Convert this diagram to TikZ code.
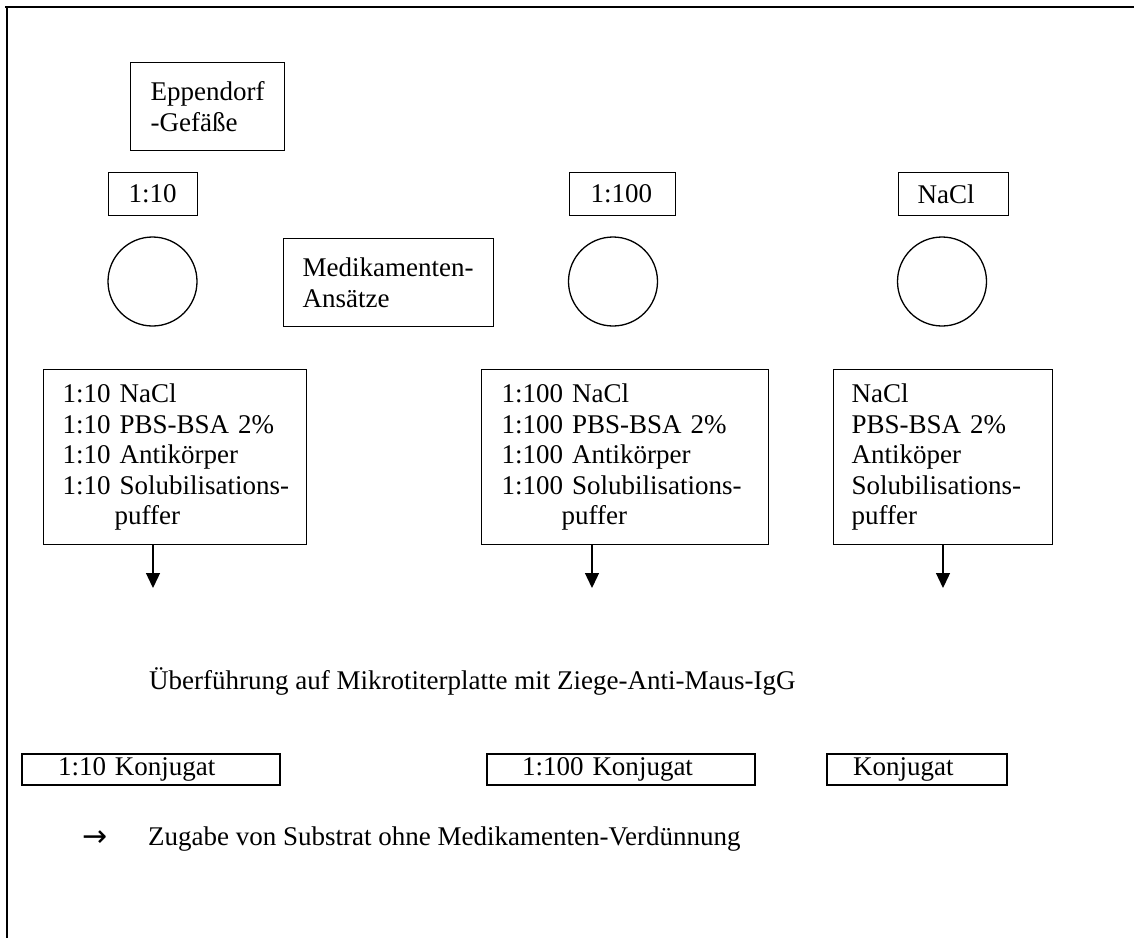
\documentclass[tikz,border=0pt]{standalone}
\usepackage{fontspec}
\setmainfont{Liberation Serif}
\newfontfamily\symfont{DejaVu Sans}
\usetikzlibrary{arrows.meta}
\begin{document}
\begin{tikzpicture}[x=1pt,y=-1pt,
  every node/.style={font=\fontsize{27}{30.5}\selectfont, inner sep=0pt},
  box/.style={draw, line width=1.3pt, anchor=north west, align=left},
  kbox/.style={draw, line width=2pt, anchor=north west, align=left, minimum height=31pt},
  vessel/.style={draw, circle, line width=1.3pt, minimum size=89pt},
  flow/.style={line width=1.3pt, -{Triangle[width=14pt,length=15pt]}},
  plain/.style={anchor=base west}
]
\useasboundingbox (0,0) rectangle (1134,938);
% frame
\coordinate (ftl) at (7,7);
\coordinate (ftr) at (1134,7);
\coordinate (fbl) at (7,938);
\draw[line width=2.6pt] ([xshift=-2pt]ftl) -- (ftr);
\draw[line width=1.5pt] (ftl) -- (fbl);

% top labels
\node[box, minimum width=154pt, minimum height=88pt, text width=114pt, inner xsep=20pt] (epp) at (130,62) {Eppendorf\\-Gefäße};
\node[box, minimum width=89pt, minimum height=43pt, text width=49pt, inner xsep=20pt] (l10) at (108,172) {1:10};
\node[box, minimum width=106pt, minimum height=43pt, text width=64pt, inner xsep=21pt] (l100) at (569,172) {1:100};
\node[box, minimum width=110pt, minimum height=43pt, text width=72pt, inner xsep=19pt] (lnacl) at (898,172) {NaCl};

% vessels
\node[vessel] (c1) at (152.5,281.5) {};
\node[vessel] (c2) at (613,281.5) {};
\node[vessel] (c3) at (942,281.5) {};

\node[box, minimum width=210pt, minimum height=88pt, text width=172pt, inner xsep=19pt] (med) at (283,238) {\mbox{Medikamenten-}\\Ansätze};

% content boxes
\node[box, minimum width=263pt, minimum height=175pt, text width=225pt, inner xsep=19pt] (b1) at (43,369)
  {\mbox{1:10 NaCl}\\\mbox{1:10 PBS-BSA 2\%}\\\mbox{1:10 Antikörper}\\\mbox{1:10 Solubilisations-}\\\hspace*{52pt}puffer};
\node[box, minimum width=287pt, minimum height=175pt, text width=247pt, inner xsep=20pt] (b2) at (481,369)
  {\mbox{1:100 NaCl}\\\mbox{1:100 PBS-BSA 2\%}\\\mbox{1:100 Antikörper}\\\mbox{1:100 Solubilisations-}\\\hspace*{60pt}puffer};
\node[box, minimum width=219pt, minimum height=175pt, text width=183pt, inner xsep=18pt] (b3) at (833,369)
  {NaCl\\\mbox{PBS-BSA 2\%}\\Antiköper\\\mbox{Solubilisations-}\\puffer};

% arrows
\coordinate (a1) at (153,588);
\coordinate (a2) at (592,588);
\coordinate (a3) at (943,588);
\draw[flow] (b1.south -| a1) -- (a1);
\draw[flow] (b2.south -| a2) -- (a2);
\draw[flow] (b3.south -| a3) -- (a3);

\node[plain] (ueb) at (149,689) {Überführung auf Mikrotiterplatte mit Ziege-Anti-Maus-IgG};

% conjugate boxes
\node[kbox, minimum width=258pt, text width=186pt, inner xsep=36pt] (k1) at (21,753) {1:10 Konjugat};
\node[kbox, minimum width=268pt, text width=198pt, inner xsep=35pt] (k2) at (486,753) {1:100 Konjugat};
\node[kbox, minimum width=180pt, text width=128pt, inner xsep=26pt] (k3) at (826,753) {Konjugat};

\node[plain, font=\symfont\fontsize{30}{34}\selectfont] (arr) at (82,846) {→};
\node[plain] (zug) at (148,845) {Zugabe von Substrat ohne Medikamenten-Verdünnung};
\end{tikzpicture}
\end{document}
